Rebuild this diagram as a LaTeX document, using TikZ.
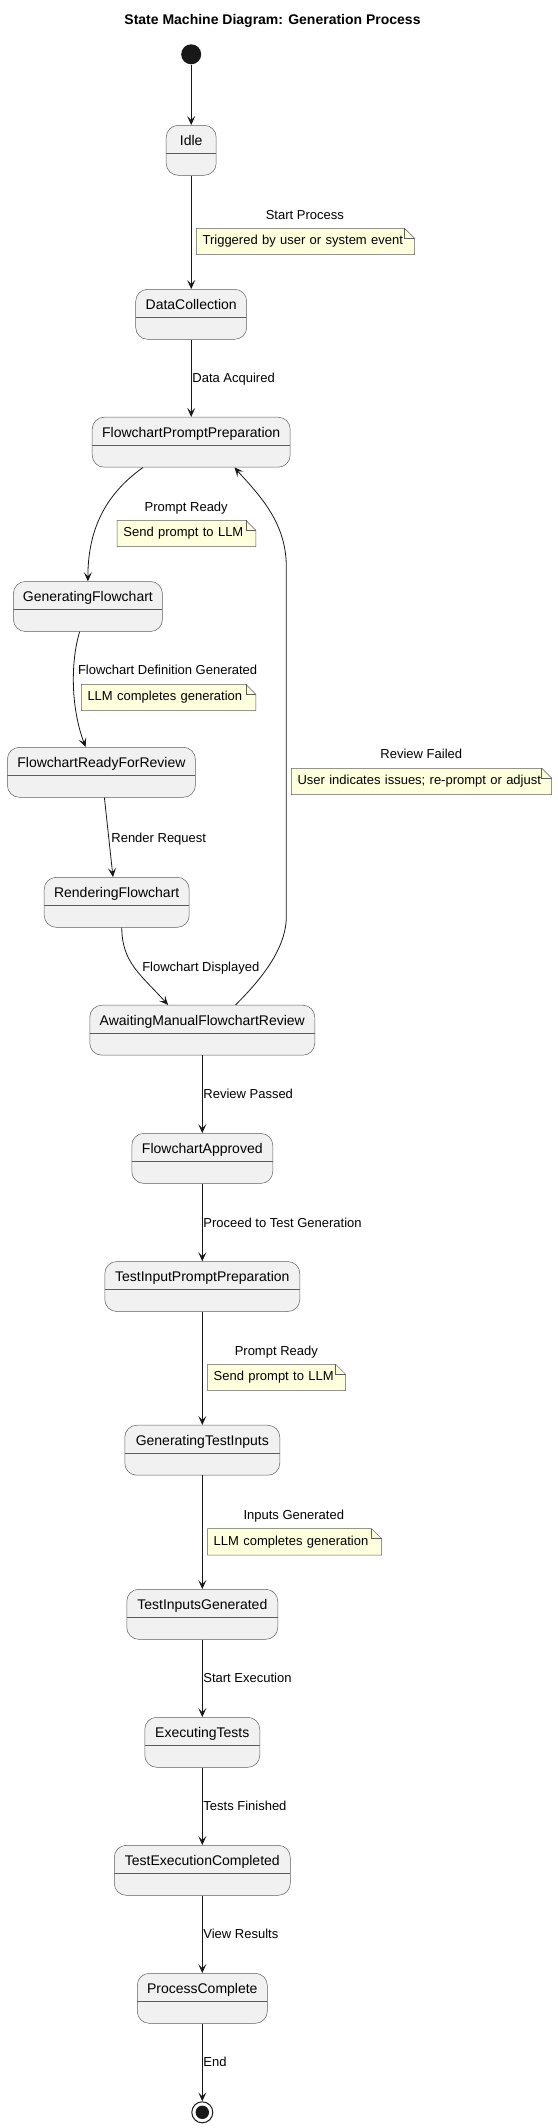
\documentclass[tikz,border=0pt]{standalone}
\usepackage{fontspec}
\setmainfont{Liberation Sans}
\usepackage{xcolor}
\definecolor{stateback}{HTML}{F1F1F1}
\definecolor{lineink}{HTML}{181818}
\definecolor{noteback}{HTML}{FEFFDD}
\usepackage{tikz}
\usetikzlibrary{positioning,arrows.meta,backgrounds,calc}

\tikzset{
	stbox/.style={draw=lineink!70, line width=0.5pt, fill=stateback, rounded corners=12pt,
		minimum height=50pt, inner sep=0pt, text height=10pt, text depth=20pt,
		font=\fontsize{14}{16}\selectfont,
		path picture={\draw[lineink!70, line width=0.5pt] ([yshift=-28pt]path picture bounding box.north west) -- ([yshift=-28pt]path picture bounding box.north east);}},
	trans/.style={-{Stealth[length=9pt,width=8pt,inset=4pt]}, line width=0.8pt, lineink},
	lbl/.style={font=\fontsize{13}{15}\selectfont, inner sep=0pt, text height=9.5pt, text depth=2.7pt},
	note/.style={lbl, anchor=north west, minimum height=26pt, inner xsep=6pt, align=left},
	notebg/.style={draw=lineink!70, line width=0.5pt, fill=noteback}
}

\begin{document}
\begin{tikzpicture}[x=1pt,y=-1pt]
	\useasboundingbox (0,0) rectangle (557,2128);
	% title
	\node[font=\fontsize{14}{16}\selectfont\bfseries] (title) at (272.5,21.3) {State Machine Diagram: Generation Process};
	
	% draw states
	\node[circle,fill=lineink,minimum size=20pt,inner sep=0pt] (init) at (191.2,54.3) {};
	\node[stbox,minimum width=50pt] (idle) at (191.2,150.3) {Idle};
	\node[stbox,minimum width=111pt] (dataCollection) at (191.2,314.3) {DataCollection};
	\node[stbox,minimum width=198pt] (flowPrompt) at (191.2,442.2) {FlowchartPromptPreparation};
	\node[stbox,minimum width=149pt] (genFlow) at (87.9,606.5) {GeneratingFlowchart};
	\node[stbox,minimum width=188pt] (flowReady) at (101.4,772.3) {FlowchartReadyForReview};
	\node[stbox,minimum width=145pt] (rendering) at (116.7,902.3) {RenderingFlowchart};
	\node[stbox,minimum width=225pt] (awaiting) at (202.3,1030.2) {AwaitingManualFlowchartReview};
	\node[stbox,minimum width=141pt] (approved) at (202.3,1158.4) {FlowchartApproved};
	\node[stbox,minimum width=195pt] (testPrompt) at (202.3,1286.5) {TestInputPromptPreparation};
	\node[stbox,minimum width=155pt] (genInputs) at (202.3,1450.2) {GeneratingTestInputs};
	\node[stbox,minimum width=151pt] (inputsDone) at (202.3,1614.3) {TestInputsGenerated};
	\node[stbox,minimum width=115pt] (executing) at (202.3,1742.3) {ExecutingTests};
	\node[stbox,minimum width=176pt] (execDone) at (202.3,1870.3) {TestExecutionCompleted};
	\node[stbox,minimum width=130pt] (complete) at (202.3,1998.3) {ProcessComplete};
	\node[circle,draw=lineink,line width=1pt,fill=white,minimum size=21pt,inner sep=0pt,
		path picture={\fill[lineink] (path picture bounding box.center) circle (6.7pt);}] (final) at (202.3,2112.3) {};
	
	% bend of the loop back
	\coordinate (failLow) at (286.3,916.7);
	\coordinate (failHigh) at (286.3,566.7);
	
	% draw transitions
	\draw[trans] (init.south) -- (idle.north);
	\draw[trans] (idle.south) -- (dataCollection.north);
	\draw[trans] (dataCollection.south) -- (flowPrompt.north);
	\draw[trans] ([xshift=-48.2pt]flowPrompt.south) .. controls +(-35,25) and +(0,-55) .. (genFlow.north);
	\draw[trans] ([xshift=-8.3pt]genFlow.south) .. controls +(-9,30) and +(-15,-40) .. ([xshift=-15.8pt]flowReady.north);
	\draw[trans] ([xshift=3pt]flowReady.south) -- ([xshift=-3.7pt]rendering.north);
	\draw[trans] ([xshift=5.1pt]rendering.south) .. controls +(0,35) and +(-27,-30) .. ([xshift=-34.2pt]awaiting.north);
	\draw[trans] ([xshift=33.2pt]awaiting.north) .. controls +(20,-20) and +(0,35) .. (failLow) -- (failHigh)
		.. controls +(0,-45) and +(24,27) .. ([xshift=43.3pt]flowPrompt.south);
	\draw[trans] (awaiting.south) -- (approved.north);
	\draw[trans] (approved.south) -- (testPrompt.north);
	\draw[trans] (testPrompt.south) -- (genInputs.north);
	\draw[trans] (genInputs.south) -- (inputsDone.north);
	\draw[trans] (inputsDone.south) -- (executing.north);
	\draw[trans] (executing.south) -- (execDone.north);
	\draw[trans] (execDone.south) -- (complete.north);
	\draw[trans] (complete.south) -- (final.north);
	
	%%%labels and notes
	\node[lbl] (lStart) at (304.8,215.7) {Start Process};
	\node[note,text width=205.8pt] (nStart) at (196.4,228.3) {Triggered by user or system event};
	\node[lbl,anchor=west] (lData) at (192.2,379.3) {Data Acquired};
	\node[lbl] (lPrompt) at (186.2,507.7) {Prompt Ready};
	\node[note,text width=126.2pt] (nPrompt) at (117.2,520.3) {Send prompt to LLM};
	\node[lbl] (lFlowDef) at (167.6,671.3) {Flowchart Definition Generated};
	\node[note,text width=162.1pt] (nFlowDef) at (81.3,684.3) {LLM completes generation};
	\node[lbl,anchor=west] (lRender) at (111.2,839.3) {Render Request};
	\node[lbl] (lFailed) at (421.3,755.3) {Review Failed};
	\node[note,text width=248pt] (nFailed) at (291.3,768.3) {User indicates issues; re-prompt or adjust};
	\node[lbl,anchor=west] (lDisplayed) at (142.1,967.7) {Flowchart Displayed};
	\node[lbl,anchor=west] (lPassed) at (203.2,1095.3) {Review Passed};
	\node[lbl,anchor=west] (lProceed) at (203.2,1223.7) {Proceed to Test Generation};
	\node[lbl] (lPrompt2) at (276.3,1351.7) {Prompt Ready};
	\node[note,text width=125.8pt] (nPrompt2) at (207.5,1364.3) {Send prompt to LLM};
	\node[lbl] (lInputs) at (293.8,1515.7) {Inputs Generated};
	\node[note,text width=161.7pt] (nInputs) at (207.5,1528.7) {LLM completes generation};
	\node[lbl,anchor=west] (lExec) at (203.2,1679.3) {Start Execution};
	\node[lbl,anchor=west] (lFinished) at (203.2,1807.3) {Tests Finished};
	\node[lbl,anchor=west] (lView) at (203.2,1935.3) {View Results};
	\node[lbl,anchor=west] (lEnd) at (203.2,2063.3) {End};
	
	% note paper with folded corner
	\begin{scope}[on background layer]
		\foreach \n in {nStart,nPrompt,nFlowDef,nFailed,nPrompt2,nInputs}
		\draw[notebg] (\n.north west) -- ([xshift=-10pt]\n.north east) -- ([yshift=-10pt]\n.north east) -- (\n.south east) -- (\n.south west) -- cycle;
	\end{scope}
	\foreach \n in {nStart,nPrompt,nFlowDef,nFailed,nPrompt2,nInputs}
	\draw[notebg,fill=none] ([xshift=-10pt]\n.north east) |- ([yshift=-10pt]\n.north east);
	
\end{tikzpicture}
\end{document}
